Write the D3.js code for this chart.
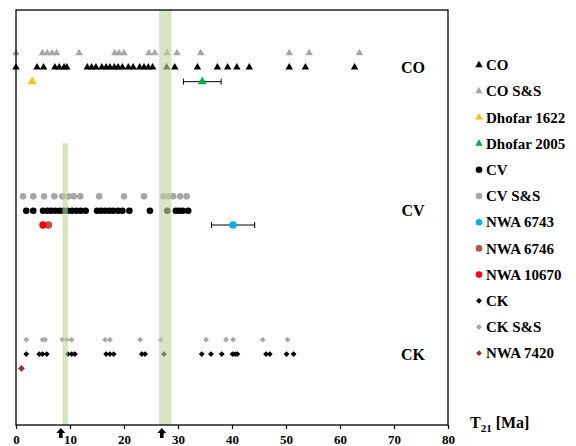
<!DOCTYPE html>
<head>
    <meta charset='utf-8'>
    <style>
        body { margin: 0; background: #fff; }
        text { font-family: 'Liberation Serif', 'Times New Roman', serif; font-weight: bold; fill: #000; }
        .axis path, .axis line { stroke: #000; }
    </style>
</head>
<body>
<div id='vis'></div>
<script src='https://d3js.org/d3.v7.min.js'></script>
<script>
  // ages T21 [Ma]
  const coSS = [0, 4.9, 5.8, 6.7, 7.5, 11.7, 18.3, 19.1, 20.0, 24.6, 25.7, 28.0, 29.8, 34.2, 50.6, 54.3, 63.6]
  const co = [0, 3.9, 5.1, 7.2, 8.0, 8.9, 9.4, 13.2, 14.0, 14.8, 15.9, 16.7, 17.4, 18.2, 18.9, 19.7, 20.8, 21.7,
    22.9, 23.7, 24.5, 25.3, 27.9, 29.4, 33.6, 37.3, 39.2, 40.9, 43.2, 50.6, 53.6, 62.7]
  const cvSS = [1.3, 3.2, 5.2, 7.1, 8.6, 9.7, 10.7, 11.9, 15.4, 20.0, 23.7, 27.3, 28.2, 29.1, 30.4, 31.6]
  const cv = [1.9, 3.2, 5.0, 5.8, 6.5, 7.3, 8.1, 8.8, 9.6, 10.4, 11.2, 12.0, 12.9, 15.0, 15.7, 16.5, 17.3, 18.0,
    18.9, 19.7, 21.0, 24.8, 28.0, 29.6, 30.2, 30.9, 31.9]
  const ckSS = [1.9, 4.9, 5.4, 8.6, 9.4, 10.3, 16.5, 17.4, 23.0, 26.8, 35.2, 38.9, 40.2, 45.7, 50.3]
  const ck = [1.9, 4.3, 4.9, 5.7, 9.6, 10.3, 10.9, 16.7, 17.4, 18.1, 23.3, 23.9, 27.4, 34.4, 36.1, 38.1,
    40.1, 40.6, 41.0, 46.3, 47.0, 50.1, 51.4]

  // single meteorites: name, age, error
  const singleNames = ['Dhofar 1622', 'Dhofar 2005', 'NWA 6743', 'NWA 6746', 'NWA 10670', 'NWA 7420']
  const singleAges = [3.0, 34.5, 40.2, 6.0, 5.0, 1.0]
  const singleErrs = [0, 3.5, 4.0, 0, 0, 0]

  const groups = ['CK', 'CV', 'CO']
  const bands = [[8.6, 9.6], [26.5, 28.8]]
  const arrows = [8.3, 27.0]
  const xTicks = [0, 10, 20, 30, 40, 50, 60, 70, 80]

  const legendNames = ['CO', 'CO S&S', 'Dhofar 1622', 'Dhofar 2005', 'CV', 'CV S&S',
    'NWA 6743', 'NWA 6746', 'NWA 10670', 'CK', 'CK S&S', 'NWA 7420']

  const colour = {
    'CO': '#000', 'CO S&S': '#a6a6a6', 'Dhofar 1622': '#ffc000', 'Dhofar 2005': '#00b050',
    'CV': '#000', 'CV S&S': '#a6a6a6', 'NWA 6743': '#00b0f0', 'NWA 6746': '#c0504d',
    'NWA 10670': '#ff0000', 'CK': '#000', 'CK S&S': '#a6a6a6', 'NWA 7420': '#943634'
  }
  const kind = name => {
    if (name.startsWith('CO') || name.startsWith('Dhofar')) return 'tri'
    if (name.startsWith('CK') || name === 'NWA 7420') return 'dia'
    return 'dot'
  }
  const symType = { tri: d3.symbolTriangle, dot: d3.symbolCircle, dia: d3.symbolSquare }
  const symSize = { tri: 24, dot: 34, dia: 17 }
  const rot = k => k === 'dia' ? ' rotate(45)' : ''
  const symbolPath = (k, scale = 1) => d3.symbol().type(symType[k]).size(symSize[k] * scale)()

  const plot = {left: 16, right: 448, top: 10, bottom: 425}

  const x = d3.scaleLinear().domain([0, 80]).range([plot.left, plot.right])
  // group level: CK=0, CV=1, CO=2
  const y = d3.scaleLinear().domain([-0.495, 2.4]).range([plot.bottom, plot.top])
  const level = {'CK': 0, 'CV': 1, 'CO': 2}

  const svg = d3.select('#vis').append('svg')
    .attr('width', 576).attr('height', 446)

  // rows of points
  const rows = [
    {name: 'CO S&S', vals: coSS, lv: 2.1},
    {name: 'CO', vals: co, lv: 2},
    {name: 'CV S&S', vals: cvSS, lv: 1.1},
    {name: 'CV', vals: cv, lv: 1},
    {name: 'CK S&S', vals: ckSS, lv: 0.1},
    {name: 'CK', vals: ck, lv: 0}
  ]
  const singleLevel = {'Dhofar 1622': 1.9, 'Dhofar 2005': 1.9, 'NWA 6743': 0.9, 'NWA 6746': 0.9,
    'NWA 10670': 0.9, 'NWA 7420': -0.1}

  const marks = svg.append('g')
  rows.forEach(r => {
    const k = kind(r.name)
    marks.selectAll(null).data(r.vals).enter().append('path')
      .attr('d', symbolPath(k))
      .attr('transform', d => `translate(${x(d)},${y(r.lv)})` + rot(k))
      .attr('fill', colour[r.name])
  })

  // error bars
  singleNames.forEach((n, i) => {
    if (!singleErrs[i]) return
    const yy = y(singleLevel[n])
    const g = marks.append('g').attr('stroke', '#000').attr('stroke-width', 1)
    g.append('line').attr('x1', x(singleAges[i] - singleErrs[i])).attr('x2', x(singleAges[i] + singleErrs[i]))
      .attr('y1', yy).attr('y2', yy)
    ;[-1, 1].forEach(k => g.append('line')
      .attr('x1', x(singleAges[i] + k * singleErrs[i])).attr('x2', x(singleAges[i] + k * singleErrs[i]))
      .attr('y1', yy - 3).attr('y2', yy + 3))
  })
  singleNames.forEach((n, i) => {
    const k = kind(n)
    marks.append('path')
      .attr('d', symbolPath(k, k === 'dot' ? 1.3 : 1.4))
      .attr('transform', `translate(${x(singleAges[i])},${y(singleLevel[n])})` + rot(k))
      .attr('fill', colour[n])
  })

  // green bands over the points
  svg.append('g').selectAll('rect').data(bands).enter().append('rect')
    .attr('x', d => x(d[0]))
    .attr('width', d => x(d[1]) - x(d[0]))
    .attr('y', (d, i) => i === 0 ? y(1.47) : plot.top)
    .attr('height', (d, i) => plot.bottom - (i === 0 ? y(1.47) : plot.top))
    .attr('fill', '#bdd69e')
    .attr('opacity', 0.62)

  // frame
  svg.append('rect')
    .attr('x', plot.left).attr('y', plot.top)
    .attr('width', plot.right - plot.left).attr('height', plot.bottom - plot.top)
    .attr('fill', 'none').attr('stroke', '#000').attr('stroke-width', 1.3)

  // x axis
  const xAxis = svg.append('g').attr('class', 'axis')
    .attr('transform', `translate(0,${plot.bottom})`)
    .call(d3.axisBottom(x).tickValues(xTicks).tickSize(4).tickFormat(d3.format('d')))
  xAxis.select('.domain').remove()
  xAxis.selectAll('line').attr('stroke-width', 1.2)
  xAxis.selectAll('text').attr('dy', null).attr('y', 19).style('font-size', '13px')
    .style('font-family', "'Liberation Serif', serif").style('font-weight', 'bold')

  // arrows under axis
  const arrowPath = 'M0,0 L-4.5,5 L-1.8,5 L-1.8,10 L1.8,10 L1.8,5 L4.5,5 Z'
  svg.append('g').selectAll('path').data(arrows).enter().append('path')
    .attr('d', arrowPath)
    .attr('transform', d => `translate(${x(d)},${plot.bottom + 3})`)
    .attr('fill', '#000')

  // axis title
  const title = svg.append('text').attr('x', 470).attr('y', 428).style('font-size', '16px')
  title.append('tspan').text('T')
  title.append('tspan').text('21').attr('dy', 4).style('font-size', '11px')
  title.append('tspan').text(' [Ma]').attr('dy', -4)

  // group labels
  svg.append('g').selectAll('text').data(groups).enter().append('text')
    .attr('x', 413).attr('y', d => y(level[d]))
    .attr('dy', '0.35em')
    .attr('text-anchor', 'middle')
    .style('font-size', '16px')
    .text(d => d)

  // legend
  const legend = svg.append('g').attr('transform', 'translate(479,65)')
  const item = legend.selectAll('g').data(legendNames).enter().append('g')
    .attr('transform', (d, i) => `translate(0,${i * 26.2})`)
  item.append('path')
    .attr('d', d => symbolPath(kind(d)))
    .attr('transform', d => rot(kind(d)).trim())
    .attr('fill', d => colour[d])
  item.append('text')
    .attr('x', 7).attr('dy', '0.35em')
    .style('font-size', '15px')
    .text(d => d)
</script>
</body>
